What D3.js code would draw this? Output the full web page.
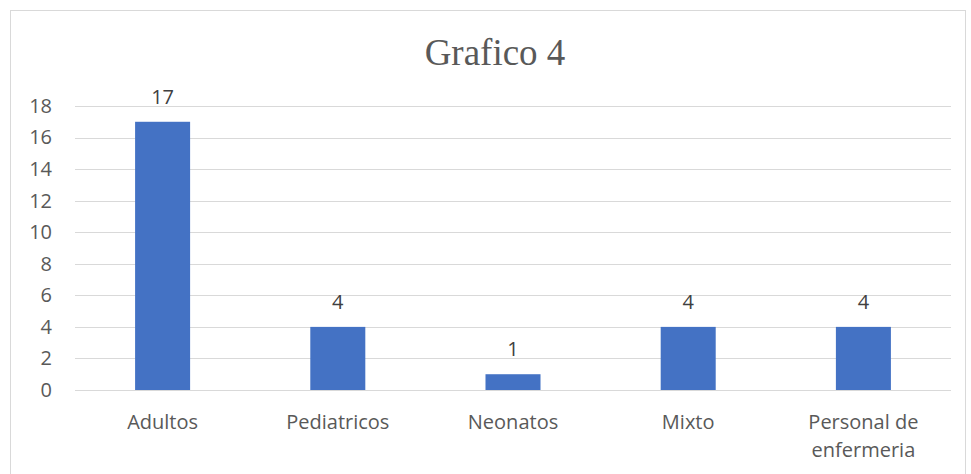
<!DOCTYPE html>
<html>
<head>
<meta charset="utf-8">
<script src="https://cdn.jsdelivr.net/npm/d3@7"></script>
<style>
body{margin:0;background:#fff;}
text{font-family:"Open Sans","Liberation Sans",sans-serif;}
</style>
</head>
<body>
<script>
// data
const categories=["Adultos","Pediatricos","Neonatos","Mixto","Personal de enfermeria"];
const values=[17,4,1,4,4];
const yTicks=[0,2,4,6,8,10,12,14,16,18];
const title="Grafico 4";

const w=971, h=474;
const mLeft=75, mRight=951, mTop=106, mBottom=390;
const fs="20px";

const svg=d3.select("body").append("svg")
  .attr("width",w).attr("height",h);

// outer border
svg.append("rect")
  .attr("x",10.5).attr("y",10.5)
  .attr("width",955).attr("height",480)
  .attr("fill","#fff").attr("stroke","#d9d9d9");

const x=d3.scaleBand().domain(categories).range([mLeft,mRight])
  .paddingInner(0.686).paddingOuter(0.343);
const y=d3.scaleLinear().domain([0,18]).range([mBottom,mTop]);

// gridlines
svg.append("g").selectAll("line").data(yTicks).enter().append("line")
  .attr("x1",mLeft).attr("x2",mRight)
  .attr("y1",d=>Math.round(y(d))+0.5).attr("y2",d=>Math.round(y(d))+0.5)
  .attr("stroke","#d9d9d9").attr("stroke-width",1);

// y axis labels
const yAxis=d3.axisLeft(y).tickValues(yTicks).tickSize(0).tickPadding(0);
const gy=svg.append("g").attr("transform","translate(52,0)").call(yAxis);
gy.select(".domain").remove();
gy.selectAll("text").attr("fill","#595959").style("font-size",fs)
  .style("font-family",'"Open Sans","Liberation Sans",sans-serif');

// bars
svg.append("g").selectAll("rect").data(values).enter().append("rect")
  .attr("x",(d,i)=>x(categories[i]))
  .attr("y",d=>y(d))
  .attr("width",x.bandwidth())
  .attr("height",d=>y(0)-y(d))
  .attr("fill","#4472c4");

// data labels
svg.append("g").selectAll("text").data(values).enter().append("text")
  .attr("x",(d,i)=>x(categories[i])+x.bandwidth()/2)
  .attr("y",d=>y(d)-18)
  .attr("text-anchor","middle")
  .attr("fill","#404040")
  .style("font-size",fs)
  .text(d=>d);

// category labels
const cats=svg.append("g").selectAll("text").data(categories).enter().append("text")
  .attr("x",d=>x(d)+x.bandwidth()/2)
  .attr("y",429)
  .attr("text-anchor","middle")
  .attr("fill","#595959")
  .style("font-size",fs);
cats.each(function(d){
  const t=d3.select(this);
  const parts=d==="Personal de enfermeria"?["Personal de","enfermeria"]:[d];
  parts.forEach((p,i)=>{
    t.append("tspan").attr("x",x(d)+x.bandwidth()/2).attr("dy",i?"28":"0").text(p);
  });
});

// title
svg.append("text")
  .attr("x",495).attr("y",65)
  .attr("text-anchor","middle")
  .attr("fill","#595959")
  .style("font-family",'"Liberation Serif","Times New Roman",serif')
  .style("font-size","37px")
  .text(title);
</script>
</body>
</html>
